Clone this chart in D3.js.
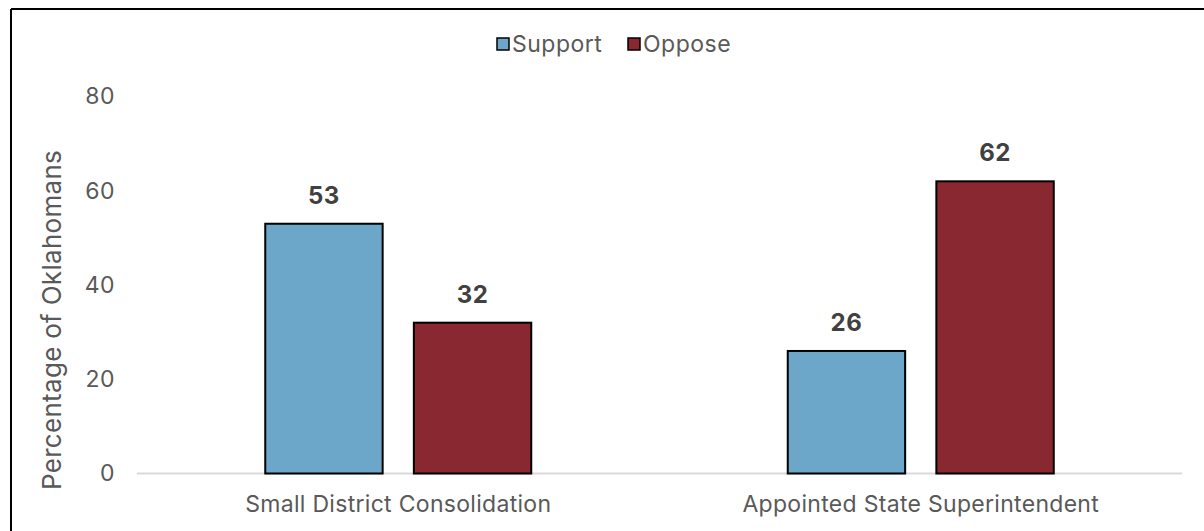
<!DOCTYPE html>
<html>
<head>
<meta charset="utf-8">
<script src="https://cdn.jsdelivr.net/npm/d3@7"></script>
<style>
  html, body { margin: 0; padding: 0; background: #fff; }
  svg { display: block; font-family: Inter, "Noto Sans", sans-serif; }
</style>
</head>
<body>
<svg id="chart" width="1204" height="531"></svg>
<script>
// Survey results by proposal
const categories = ["Small District Consolidation", "Appointed State Superintendent"];
const seriesNames = ["Support", "Oppose"];
const supportValues = [53, 26];
const opposeValues = [32, 62];
const yTicks = [0, 20, 40, 60, 80];
const seriesColors = ["#6CA6C8", "#8A2832"];

const svg = d3.select("#chart");
const W = 1204, H = 531;
const margin = { left: 137, right: 22, top: 96.5, bottom: 57.5 };
const labelSize = 23;

// frame lines (top and left)
svg.append("line").attr("x1", 11).attr("x2", W).attr("y1", 9).attr("y2", 9)
  .attr("stroke", "#000").attr("stroke-width", 2);
svg.append("line").attr("x1", 11).attr("x2", 11).attr("y1", 9).attr("y2", H)
  .attr("stroke", "#000").attr("stroke-width", 2);

const x0 = d3.scaleBand().domain(categories)
  .range([margin.left, W - margin.right]).paddingInner(0).paddingOuter(0);
const x1 = d3.scaleBand().domain(seriesNames)
  .range([0, 266]).paddingInner(0.21);
const y = d3.scaleLinear().domain([0, 80]).range([H - margin.bottom, margin.top]);

// y axis tick labels
const yAxis = d3.axisLeft(y).tickValues(yTicks).tickSize(0).tickPadding(0);
const gy = svg.append("g").attr("transform", `translate(115,0)`).call(yAxis);
gy.select(".domain").remove();
gy.selectAll("text").attr("fill", "#595959").attr("font-size", labelSize)
  .attr("font-family", "Inter, sans-serif").attr("letter-spacing", 0.5);

// baseline
svg.append("line").attr("x1", margin.left).attr("x2", W - margin.right)
  .attr("y1", y(0)).attr("y2", y(0)).attr("stroke", "#d9d9d9").attr("stroke-width", 2);

// category labels
const xAxis = d3.axisBottom(x0).tickSize(0).tickPadding(0);
const gx = svg.append("g").attr("transform", `translate(0,${y(0) + 22})`).call(xAxis);
gx.select(".domain").remove();
gx.selectAll("text").attr("fill", "#595959").attr("font-size", labelSize)
  .attr("font-family", "Inter, sans-serif").attr("letter-spacing", 0.3);

// bars
const rows = categories.map((c, i) => ({
  cat: c,
  vals: [
    { s: seriesNames[0], v: supportValues[i] },
    { s: seriesNames[1], v: opposeValues[i] }
  ]
}));
const color = d3.scaleOrdinal().domain(seriesNames).range(seriesColors);

const groups = svg.append("g").selectAll("g").data(rows).join("g")
  .attr("transform", d => `translate(${x0(d.cat) + (x0.bandwidth() - 266) / 2},0)`);

groups.selectAll("rect").data(d => d.vals).join("rect")
  .attr("x", d => x1(d.s))
  .attr("y", d => y(d.v))
  .attr("width", x1.bandwidth())
  .attr("height", d => y(0) - y(d.v))
  .attr("fill", d => color(d.s))
  .attr("stroke", "#000").attr("stroke-width", 2);

groups.selectAll("text.val").data(d => d.vals).join("text")
  .attr("class", "val")
  .attr("x", d => x1(d.s) + x1.bandwidth() / 2)
  .attr("y", d => y(d.v) - 20)
  .attr("text-anchor", "middle")
  .attr("font-size", 24).attr("font-weight", 700).attr("fill", "#404040")
  .attr("letter-spacing", 0.5)
  .text(d => d.v);

// y axis title
svg.append("text")
  .attr("transform", `translate(61,${320}) rotate(-90)`)
  .attr("text-anchor", "middle")
  .attr("font-size", 26).attr("fill", "#595959")
  .attr("letter-spacing", 0.3)
  .text("Percentage of Oklahomans");

// legend
const legend = svg.append("g");
const legendX = [497, 628];
seriesNames.forEach((s, i) => {
  const g = legend.append("g").attr("transform", `translate(${legendX[i]},38)`);
  g.append("rect").attr("x", 0).attr("y", 0).attr("width", 12).attr("height", 12)
    .attr("fill", seriesColors[i]).attr("stroke", "#000").attr("stroke-width", 1.5);
  g.append("text").attr("x", 15).attr("y", 14)
    .attr("font-size", labelSize).attr("fill", "#595959")
    .attr("letter-spacing", 0.5).text(s);
});
</script>
</body>
</html>
